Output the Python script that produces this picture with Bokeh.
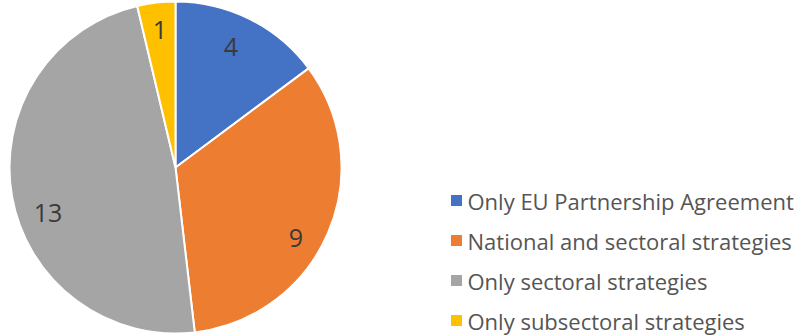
import math
from bokeh.plotting import figure
from bokeh.models import ColumnDataSource, Range1d
from bokeh.core.properties import value
from bokeh.embed import file_html
from bokeh.resources import INLINE

categories = ["Only EU Partnership Agreement", "National and sectoral strategies",
              "Only sectoral strategies", "Only subsectoral strategies"]
counts = [4, 9, 13, 1]
colors = ["#4472C4", "#ED7D31", "#A5A5A5", "#FFC000"]

W, H = 798, 336
CX, CY, R = 175, 169, 166

# small label nudges (screen px) mimicking the original label placement
label_dx = [-5, -3, 5, 0]
label_dy = [0, 17, 22, -4]

total = sum(counts)
starts, ends, lx, ly = [], [], [], []
cum = 0
for c in counts:
    a0 = math.pi / 2 - 2 * math.pi * cum / total
    a1 = math.pi / 2 - 2 * math.pi * (cum + c) / total
    starts.append(a0)
    ends.append(a1)
    mid = (a0 + a1) / 2
    lx.append(CX + 0.81 * R * math.cos(mid))
    ly.append(CY + 0.81 * R * math.sin(mid))
    cum += c

src = ColumnDataSource(dict(start=starts, end=ends, color=colors,
                            lx=lx, ly=ly, txt=[str(c) for c in counts],
                            dx=label_dx, dy=label_dy, cat=categories))

p = figure(width=W, height=H, output_backend="svg", toolbar_location=None,
           x_range=Range1d(0, W), y_range=Range1d(0, H), min_border=0)
p.axis.visible = False
p.grid.visible = False
p.outline_line_color = None
p.background_fill_color = "white"
p.border_fill_color = "white"

p.wedge(x=CX, y=CY, radius=R, start_angle="start", end_angle="end",
        direction="clock", fill_color="color", line_color="white",
        line_width=2, source=src)

p.text(x="lx", y="ly", text="txt", source=src, x_offset="dx", y_offset="dy",
       text_align="center", text_baseline="middle",
       text_font=value("Open Sans"), text_font_size="25px",
       text_color="#3a3a3a")

# legend
leg_y = [H - 200 - 40 * i for i in range(len(categories))]
leg_src = ColumnDataSource(dict(y=leg_y, color=colors, cat=categories))
p.rect(x=456, y="y", width=11, height=11, fill_color="color", line_color=None,
       source=leg_src)
p.text(x=467, y="y", text="cat", source=leg_src, text_align="left",
       text_baseline="middle", text_font=value("Open Sans"),
       text_font_size="22px", text_color="#555555")

open("out.html", "w").write(file_html(p, INLINE))
